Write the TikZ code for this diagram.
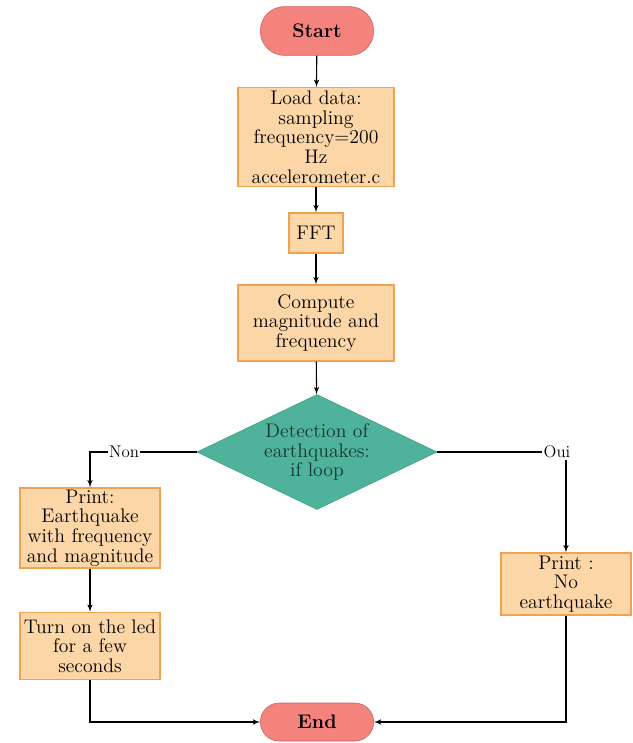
\documentclass[tikz,border=0pt]{standalone}
\usepackage{tikz}
\usetikzlibrary{arrows,shapes}

\definecolor{startfill}{HTML}{F4837D}
\definecolor{startdraw}{HTML}{C8605A}
\definecolor{boxfill}{HTML}{FCD6A6}
\definecolor{boxdraw}{HTML}{EFA352}
\definecolor{tealfill}{HTML}{4FB39C}
\definecolor{tealdraw}{HTML}{3F9C86}
\definecolor{tealtext}{HTML}{14352C}

\tikzset{
  term/.style={rectangle, rounded corners=#1, fill=startfill, draw=startdraw,
    font=\fontsize{14}{14}\selectfont\bfseries, inner sep=0pt},
  proc/.style={rectangle, fill=boxfill, draw=boxdraw, line width=0.8pt,
    align=center, font=\fontsize{14}{14}\selectfont, inner sep=0pt},
  decide/.style={diamond, aspect=2.09, fill=tealfill, draw=tealdraw, align=center,
    font=\fontsize{14}{14}\selectfont, text=tealtext, inner sep=0pt},
  line/.style={draw, line width=0.8pt, -latex'},
  lbl/.style={fill=white, inner sep=1pt, font=\fontsize{12}{12}\selectfont}
}

\begin{document}
\begin{tikzpicture}[x=0.025cm,y=-0.025cm]
		\useasboundingbox (0,0) rectangle (632,743);
		% debut
		\node[term=0.6cm, minimum width=2.83cm, minimum height=1.22cm] (start) at (317,31) {Start};
		% chargement
		\node[proc, minimum width=3.9cm, minimum height=2.47cm] (load) at (316,137)
			{Load data:\\ sampling\\ frequency=200\\ Hz\\ accelerometer.c};
		\node[proc, minimum width=1.35cm, minimum height=1cm] (fft) at (316,233) {FFT};
		\node[proc, minimum width=3.9cm, minimum height=1.9cm] (compute) at (316,323)
			{Compute\\ magnitude and\\ frequency};
		% test
		\node[decide, minimum width=6cm, minimum height=2.875cm] (detect) at (317,452)
			{Detection of\\ earthquakes:\\ if loop};
		% branche non
		\node[proc, minimum width=3.5cm, minimum height=2cm] (printeq) at (90,528)
			{Print:\\ Earthquake\\ with frequency\\ and magnitude};
		\node[proc, minimum width=3.5cm, minimum height=1.68cm] (led) at (90,646)
			{Turn on the led\\ for a few\\ seconds};
		% branche oui
		\node[proc, minimum width=3.25cm, minimum height=1.55cm] (printno) at (566,584)
			{Print :\\ No\\ earthquake};
		% fin
		\node[term=0.47cm, minimum width=2.83cm, minimum height=0.95cm] (end) at (317,722) {End};
		% fleches
		\draw[line] (start) -- (load);
		\draw[line] (load) -- (fft);
		\draw[line] (fft) -- (compute);
		\draw[line] (compute) -- (detect);
		\draw[line] (detect.west) -| node[lbl, pos=0.34]{Non} (printeq.north);
		\draw[line] (detect.east) -| node[lbl, pos=0.465]{Oui} (printno.north);
		\draw[line] (printeq) -- (led);
		\draw[line] (led.south) |- (end.west);
		\draw[line] (printno.south) |- (end.east);
	\end{tikzpicture}
\end{document}
